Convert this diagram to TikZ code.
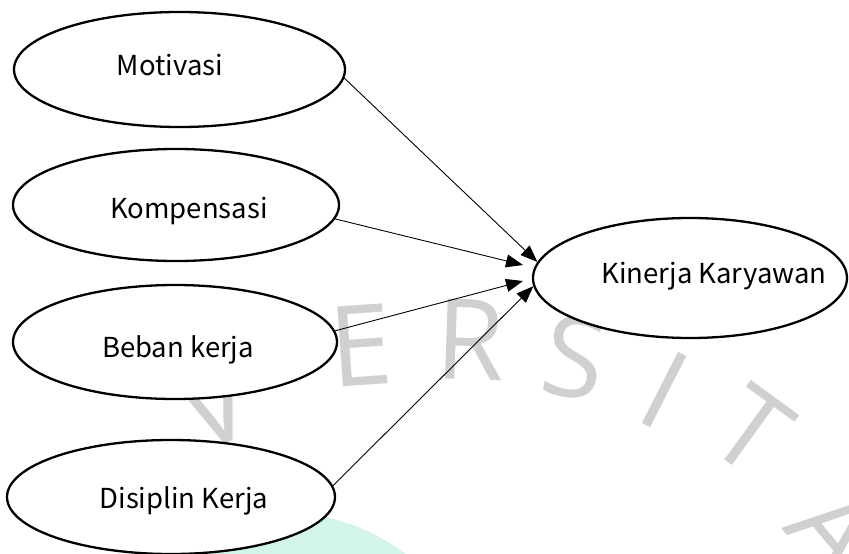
\documentclass[tikz,border=0pt]{standalone}
\usepackage{fontspec}
\setmainfont{Noto Sans CJK SC}
\newfontfamily\wmfont{Open Sans}
\usetikzlibrary{shapes.geometric,arrows.meta}
\definecolor{wmgray}{HTML}{D0D0D0}
\definecolor{mint}{HTML}{D3F5E8}
\tikzset{
  oval/.style={ellipse, draw, line width=2.3pt, fill=white, inner sep=0pt},
  lbl/.style={anchor=base, inner sep=0pt, font=\fontsize{27.5}{32}\selectfont},
  conn/.style={line width=0.9pt, -{Triangle[length=17pt,width=13pt]}},
  wm/.style={text=wmgray, inner sep=0pt, font=\wmfont\fontsize{112}{112}\selectfont},
}
\begin{document}
\begin{tikzpicture}[x=1pt,y=-1pt]
\useasboundingbox[fill=white] (0,0) rectangle (849,554);
% background logo part and watermark
\fill[mint] (280,720) circle (208);
\node[wm, rotate=20]  (wV) at (215,405) {V};
\node[wm, rotate=4]   (wE) at (361,345) {E};
\node[wm, rotate=-2]  (wR) at (470,340) {R};
\node[wm, rotate=-10] (wS) at (575,357) {S};
\node[wm, rotate=-27] (wI) at (665,390) {I};
\node[wm, rotate=-36] (wT) at (752,430) {T};
\node[wm, rotate=-50] (wA) at (835,530) {A};
% ellipses
\node[oval, minimum width=331pt, minimum height=115pt] (mot) at (179.5,69.5) {};
\node[oval, minimum width=326pt, minimum height=112pt] (kom) at (176,205) {};
\node[oval, minimum width=324pt, minimum height=114pt] (beb) at (175,342) {};
\node[oval, minimum width=328pt, minimum height=114pt] (dis) at (171,497) {};
\node[oval, minimum width=314pt, minimum height=120pt] (kin) at (690,278) {};
% labels
\node[lbl] (motT) at (170,75) {Motivasi};
\node[lbl] (komT) at (189,218) {Kompensasi};
\node[lbl] (bebT) at (178,357) {Beban kerja};
\node[lbl] (disT) at (184,508) {Disiplin Kerja};
\node[lbl] (kinT) at (714,283) {Kinerja Karyawan};
% connectors
\coordinate (t2) at (523,265);
\coordinate (t3) at (523,281);
\draw[conn] (mot.-3) -- (kin.174);
\draw[conn] (kom.-5) -- (t2);
\draw[conn] (beb.4) -- (t3);
\draw[conn] (dis.4) -- (kin.183);
\end{tikzpicture}
\end{document}
